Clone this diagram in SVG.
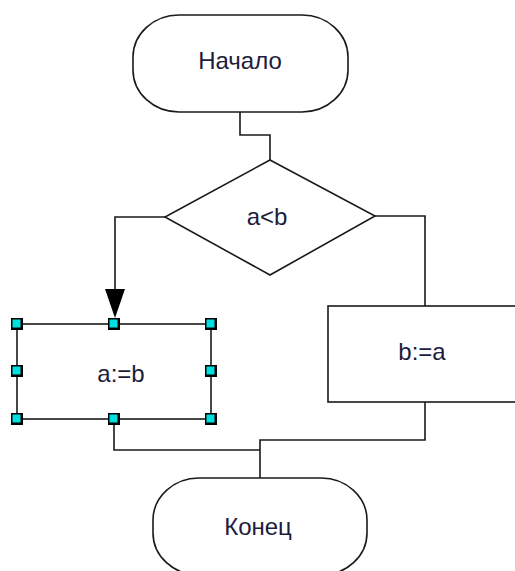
<svg xmlns="http://www.w3.org/2000/svg" width="515" height="571" viewBox="0 0 515 571">
  <style>
    .shape { fill: #ffffff; stroke: #1a1a1a; stroke-width: 1.6; }
    .conn { fill: none; stroke: #1a1a1a; stroke-width: 1.6; }
    .lbl { font-family: "Liberation Sans", Arial, sans-serif; font-size: 24px; fill: #1c1c3c; text-anchor: middle; }
    .hb { fill: #000000; }
    .hc { fill: #00e0e0; }
  </style>
  <defs>
    <g id="handle">
      <rect class="hb" x="-6" y="-6" width="12" height="12"/>
      <rect class="hc" x="-4.5" y="-4.5" width="8" height="8"/>
    </g>
  </defs>
  <rect width="515" height="571" fill="#ffffff"/>

  <g id="connectors">
    <polyline class="conn" points="240,112 240,135 270,135 270,160"/>
    <polyline class="conn" points="165,217 115,217 115,300"/>
    <polygon points="105,289 125,289 115,318" fill="#000000"/>
    <polyline class="conn" points="375,216 425,216 425,306"/>
    <polyline class="conn" points="425,402 425,440 260,440 260,478"/>
    <polyline class="conn" points="114,419 114,450 260,450"/>
  </g>

  <g id="start">
    <rect class="shape" x="133" y="15" width="215" height="97" rx="46" ry="42"/>
    <text class="lbl" x="240" y="69">Начало</text>
  </g>

  <g id="decision">
    <polygon class="shape" points="270,160 375,216 270,275 165,217"/>
    <text class="lbl" x="267" y="225">a&lt;b</text>
  </g>

  <g id="assign-a">
    <rect class="shape" x="17" y="324" width="194" height="95"/>
    <text class="lbl" x="121" y="382">a:=b</text>
    <use href="#handle" x="17" y="324"/>
    <use href="#handle" x="114" y="324"/>
    <use href="#handle" x="211" y="324"/>
    <use href="#handle" x="17" y="371"/>
    <use href="#handle" x="211" y="371"/>
    <use href="#handle" x="17" y="419"/>
    <use href="#handle" x="114" y="419"/>
    <use href="#handle" x="211" y="419"/>
  </g>

  <g id="assign-b">
    <rect class="shape" x="328" y="306" width="194" height="96"/>
    <text class="lbl" x="422" y="360">b:=a</text>
  </g>

  <g id="end">
    <rect class="shape" x="153" y="478" width="214" height="97" rx="46" ry="42"/>
    <text class="lbl" x="258" y="535">Конец</text>
  </g>
</svg>
